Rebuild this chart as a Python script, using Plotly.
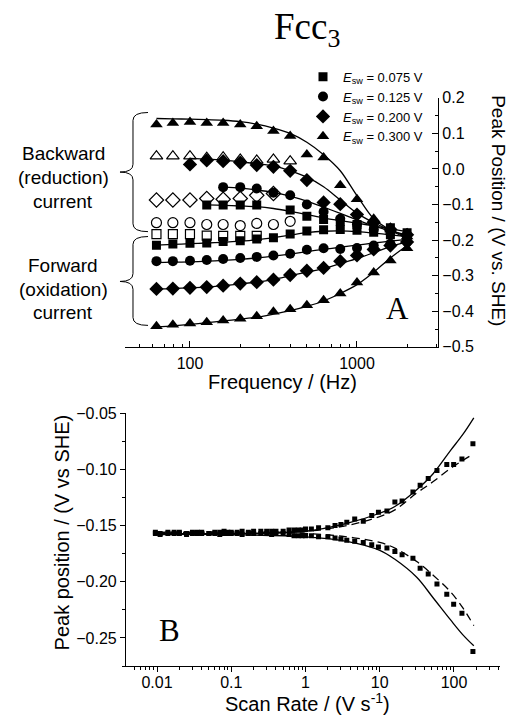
import plotly.graph_objects as go

W, H = 510, 727

# ---------------- Panel A data ----------------
freq = [63, 79, 100, 126, 158, 200, 251, 316, 398, 501, 631, 794, 1000, 1259, 1585, 1995]
esw_labels = ["0.075", "0.125", "0.200", "0.300"]

fwd_sq = [-0.214, -0.211, -0.209, -0.208, -0.204, -0.202, -0.197, -0.193, -0.183, -0.174, -0.171, -0.170, -0.172, -0.178, -0.185, -0.195]
fwd_ci = [-0.259, -0.259, -0.258, -0.256, -0.253, -0.250, -0.247, -0.243, -0.238, -0.227, -0.223, -0.225, -0.222, -0.215, -0.210, -0.205]
fwd_di = [-0.337, -0.336, -0.334, -0.332, -0.328, -0.322, -0.318, -0.311, -0.298, -0.286, -0.278, -0.259, -0.243, -0.226, -0.215, -0.205]
fwd_tr = [-0.442, -0.438, -0.434, -0.431, -0.426, -0.421, -0.414, -0.401, -0.394, -0.383, -0.369, -0.350, -0.319, -0.291, -0.257, -0.223]

bwd_sq_f = [126, 158, 200, 251, 398, 501, 631, 794, 1000, 1259, 1585, 1995]
bwd_sq = [-0.101, -0.101, -0.101, -0.101, -0.115, -0.133, -0.142, -0.147, -0.156, -0.165, -0.165, -0.179]
bwd_ci_f = [158, 200, 251, 316, 398, 501, 631, 794, 1000, 1259, 1585, 1995]
bwd_ci = [-0.051, -0.051, -0.055, -0.067, -0.074, -0.100, -0.120, -0.140, -0.155, -0.170, -0.180, -0.190]
bwd_di_f = [100, 126, 158, 200, 251, 316, 398, 501, 631, 794, 1000, 1259, 1585, 1995]
bwd_di = [0.013, 0.024, 0.022, 0.018, 0.011, 0.006, -0.005, -0.031, -0.094, -0.099, -0.128, -0.150, -0.170, -0.185]
bwd_tr_f = freq
bwd_tr = [0.125, 0.129, 0.132, 0.129, 0.129, 0.125, 0.120, 0.107, 0.093, 0.041, 0.032, -0.046, -0.085, -0.140, -0.170, -0.190]

open_sq_f = [63, 79, 100, 126, 158, 200, 251]
open_sq = [-0.183, -0.183, -0.183, -0.187, -0.188, -0.188, -0.188]
open_ci_f = [63, 79, 100, 126, 158, 200, 251, 316, 398]
open_ci = [-0.151, -0.151, -0.151, -0.156, -0.156, -0.159, -0.153, -0.156, -0.147]
open_di_f = [63, 79, 100, 126, 158, 200, 251, 316]
open_di = [-0.087, -0.087, -0.087, -0.083, -0.085, -0.083, -0.074, -0.069]
open_tr_f = [63, 79, 100, 126, 158, 200, 251, 316, 398]
open_tr = [0.036, 0.036, 0.036, 0.032, 0.033, 0.027, 0.024, 0.027, 0.022]

# fitted curves
fit_fwd_sq = [-0.214, -0.212, -0.210, -0.208, -0.206, -0.203, -0.199, -0.193, -0.186, -0.179, -0.175, -0.174, -0.176, -0.180, -0.185, -0.190]
fit_fwd_ci = [-0.263, -0.262, -0.261, -0.259, -0.257, -0.254, -0.250, -0.245, -0.239, -0.232, -0.226, -0.220, -0.214, -0.208, -0.203, -0.198]
fit_fwd_di = [-0.337, -0.336, -0.334, -0.332, -0.328, -0.323, -0.318, -0.310, -0.300, -0.290, -0.280, -0.266, -0.252, -0.235, -0.218, -0.205]
fit_fwd_tr = [-0.444, -0.441, -0.437, -0.432, -0.427, -0.422, -0.417, -0.408, -0.398, -0.386, -0.371, -0.350, -0.325, -0.290, -0.250, -0.215]
fit_bwd_tr = [0.142, 0.141, 0.140, 0.139, 0.137, 0.133, 0.126, 0.115, 0.100, 0.075, 0.040, -0.005, -0.075, -0.140, -0.172, -0.195]
fit_bwd_di_f = [100, 126, 158, 200, 251, 316, 398, 501, 631, 794, 1000, 1259, 1585, 1995]
fit_bwd_di = [0.030, 0.028, 0.025, 0.020, 0.015, 0.009, -0.005, -0.023, -0.050, -0.087, -0.124, -0.151, -0.172, -0.190]
fit_bwd_ci_f = [158, 200, 251, 316, 398, 501, 631, 794, 1000, 1259, 1585, 1995]
fit_bwd_ci = [-0.051, -0.054, -0.059, -0.066, -0.077, -0.090, -0.107, -0.125, -0.143, -0.160, -0.174, -0.185]
fit_bwd_sq_f = [126, 158, 200, 251, 316, 398, 501, 631, 794, 1000, 1259, 1585, 1995]
fit_bwd_sq = [-0.101, -0.102, -0.104, -0.106, -0.111, -0.119, -0.128, -0.138, -0.145, -0.152, -0.160, -0.168, -0.176]

freq_tickvals = [100, 1000]
freq_ticktext = ["100", "1000"]

# ---------------- Panel B data ----------------
rate = [0.0095, 0.011, 0.014, 0.017, 0.02, 0.025, 0.03, 0.035, 0.04, 0.05, 0.06, 0.07, 0.08, 0.09,
        0.1, 0.12, 0.14, 0.17, 0.2, 0.25, 0.3, 0.35, 0.4, 0.5, 0.6, 0.7, 0.8, 0.9, 1.0, 1.2, 1.5,
        2.0, 2.5, 3.0, 3.6, 4.6, 6.0, 7.8, 9.6, 12.5, 16, 20, 28, 35, 45, 59, 80, 99, 128, 180]
peak_up = [-0.156, -0.157, -0.156, -0.156, -0.156, -0.157, -0.156, -0.156, -0.156, -0.157, -0.156, -0.156, -0.155, -0.156,
           -0.156, -0.156, -0.155, -0.156, -0.155, -0.155, -0.155, -0.155, -0.155, -0.155, -0.154, -0.154, -0.154, -0.154,
           -0.153, -0.153, -0.152, -0.152, -0.150, -0.149, -0.147, -0.144, -0.146, -0.141, -0.138, -0.137, -0.129, -0.128,
           -0.120, -0.114, -0.108, -0.101, -0.0955, -0.0955, -0.0906, -0.077]
peak_dn = [-0.157, -0.158, -0.157, -0.157, -0.157, -0.158, -0.157, -0.157, -0.157, -0.157, -0.157, -0.158, -0.157, -0.157,
           -0.157, -0.157, -0.158, -0.157, -0.157, -0.157, -0.157, -0.158, -0.157, -0.157, -0.158, -0.159, -0.159, -0.159,
           -0.159, -0.159, -0.160, -0.160, -0.161, -0.162, -0.163, -0.164, -0.165, -0.167, -0.169, -0.170, -0.173, -0.176,
           -0.179, -0.188, -0.193, -0.202, -0.211, -0.220, -0.228, -0.262]

fitB_x = [0.01, 0.1, 1, 3.6, 10, 16, 31.5, 52, 90, 131, 185]
fitB_solid_up = [-0.157, -0.157, -0.155, -0.148, -0.139, -0.133, -0.118, -0.104, -0.083, -0.069, -0.054]
fitB_dash_up = [-0.156, -0.156, -0.155, -0.150, -0.142, -0.136, -0.121, -0.111, -0.099, -0.092, -0.086]
fitB_solid_dn = [-0.158, -0.158, -0.160, -0.164, -0.172, -0.180, -0.196, -0.214, -0.234, -0.247, -0.257]
fitB_dash_dn = [-0.156, -0.156, -0.157, -0.160, -0.165, -0.170, -0.182, -0.194, -0.209, -0.223, -0.239]

rate_tickvals = [0.01, 0.1, 1, 10, 100]
rate_ticktext = ["0.01", "0.1", "1", "10", "100"]

SANS = "Liberation Sans, Arial, sans-serif"
SERIF = "Liberation Serif, Times New Roman, serif"


def px(x):
    return x / W


def py(y):
    return 1 - y / H


fig = go.Figure()

symbols = ["square", "circle", "diamond", "triangle-up"]
sizes = [9, 10, 11, 11]
fwd_all = [fwd_sq, fwd_ci, fwd_di, fwd_tr]
bwd_all = [(bwd_sq_f, bwd_sq), (bwd_ci_f, bwd_ci), (bwd_di_f, bwd_di), (bwd_tr_f, bwd_tr)]
open_all = [(open_sq_f, open_sq), (open_ci_f, open_ci), (open_di_f, open_di), (open_tr_f, open_tr)]
fit_fwd = [fit_fwd_sq, fit_fwd_ci, fit_fwd_di, fit_fwd_tr]
fit_bwd = [(fit_bwd_sq_f, fit_bwd_sq), (fit_bwd_ci_f, fit_bwd_ci), (fit_bwd_di_f, fit_bwd_di), (freq, fit_bwd_tr)]

line_style = dict(color="black", width=1.3, shape="spline", smoothing=0.8)

for i in range(4):
    fig.add_trace(go.Scatter(x=freq, y=fit_fwd[i], mode="lines", line=line_style,
                             showlegend=False, xaxis="x", yaxis="y", hoverinfo="skip"))
    fig.add_trace(go.Scatter(x=fit_bwd[i][0], y=fit_bwd[i][1], mode="lines", line=line_style,
                             showlegend=False, xaxis="x", yaxis="y", hoverinfo="skip"))
for i in range(4):
    fig.add_trace(go.Scatter(x=open_all[i][0], y=open_all[i][1], mode="markers",
                             marker=dict(symbol=symbols[i] + "-open", size=sizes[i], color="black",
                                         line=dict(width=1.2, color="black")),
                             showlegend=False, xaxis="x", yaxis="y"))
for i in range(4):
    name = "<i>E</i><sub>sw</sub> = " + esw_labels[i] + " V"
    fig.add_trace(go.Scatter(x=freq, y=fwd_all[i], mode="markers", name=name, legendgroup=str(i),
                             marker=dict(symbol=symbols[i], size=sizes[i], color="black",
                                         line=dict(width=0)),
                             xaxis="x", yaxis="y"))
    fig.add_trace(go.Scatter(x=bwd_all[i][0], y=bwd_all[i][1], mode="markers", legendgroup=str(i),
                             marker=dict(symbol=symbols[i], size=sizes[i], color="black",
                                         line=dict(width=0)),
                             showlegend=False, xaxis="x", yaxis="y"))

# Panel B
fig.add_trace(go.Scatter(x=fitB_x, y=fitB_solid_up, mode="lines", line=dict(color="black", width=1.3, shape="spline"),
                         showlegend=False, xaxis="x2", yaxis="y2"))
fig.add_trace(go.Scatter(x=fitB_x, y=fitB_solid_dn, mode="lines", line=dict(color="black", width=1.3, shape="spline"),
                         showlegend=False, xaxis="x2", yaxis="y2"))
fig.add_trace(go.Scatter(x=fitB_x, y=fitB_dash_up, mode="lines",
                         line=dict(color="black", width=1.3, dash="8px,5px", shape="spline"),
                         showlegend=False, xaxis="x2", yaxis="y2"))
fig.add_trace(go.Scatter(x=fitB_x, y=fitB_dash_dn, mode="lines",
                         line=dict(color="black", width=1.3, dash="8px,5px", shape="spline"),
                         showlegend=False, xaxis="x2", yaxis="y2"))
for ys in (peak_up, peak_dn):
    fig.add_trace(go.Scatter(x=rate, y=ys, mode="markers",
                             marker=dict(symbol="square", size=5, color="black", line=dict(width=0)),
                             showlegend=False, xaxis="x2", yaxis="y2"))

tickfont = dict(family=SANS, size=16, color="black")

fig.update_layout(
    width=W, height=H, autosize=False,
    margin=dict(l=0, r=0, t=0, b=0),
    paper_bgcolor="white", plot_bgcolor="rgba(0,0,0,0)",
    font=dict(family=SANS, color="black"),
    showlegend=True,
    legend=dict(x=px(303), y=py(55), xanchor="left", yanchor="top",
                bgcolor="rgba(0,0,0,0)", font=dict(family=SANS, size=13, color="black"),
                tracegroupgap=0, itemwidth=30),
    xaxis=dict(type="log", domain=[px(125), px(438)], range=[1.611, 3.485], anchor="y",
               showline=True, linecolor="black", linewidth=1.2, mirror=False,
               ticks="inside", ticklen=6, tickwidth=1, tickcolor="black",
               tickvals=freq_tickvals, ticktext=freq_ticktext, tickfont=tickfont,
               ticklabelstandoff=2,
               minor=dict(ticks="inside", ticklen=3, tickwidth=1, tickcolor="black",
                          tickvals=[50, 60, 70, 80, 90, 200, 300, 400, 500, 600, 700, 800, 900, 2000, 3000]),
               showgrid=False, zeroline=False),
    yaxis=dict(domain=[py(347), py(92)], range=[-0.5, 0.2], anchor="x", side="right",
               showline=True, linecolor="black", linewidth=1.2,
               ticks="inside", ticklen=6, tickwidth=1, tickcolor="black",
               dtick=0.1, tick0=0, tickformat=".1f", tickfont=tickfont,
               minor=dict(ticks="inside", ticklen=3, dtick=0.05, tickcolor="black"),
               showgrid=False, zeroline=False),
    xaxis2=dict(type="log", domain=[px(126), px(500)], range=[-2.418, 2.62], anchor="y2",
                showline=True, linecolor="black", linewidth=1.2,
                ticks="outside", ticklen=5, tickwidth=1, tickcolor="black",
                tickvals=rate_tickvals, ticktext=rate_ticktext, tickfont=tickfont,
                ticklabelstandoff=-4,
                minor=dict(ticks="outside", ticklen=3, tickwidth=1, tickcolor="black",
                           tickvals=[0.005, 0.006, 0.007, 0.008, 0.009, 0.02, 0.03, 0.04, 0.05, 0.06, 0.07, 0.08, 0.09,
                                     0.2, 0.3, 0.4, 0.5, 0.6, 0.7, 0.8, 0.9, 2, 3, 4, 5, 6, 7, 8, 9,
                                     20, 30, 40, 50, 60, 70, 80, 90, 200, 300, 400]),
                showgrid=False, zeroline=False),
    yaxis2=dict(domain=[py(674), py(415)], range=[-0.2752, -0.05], anchor="x2",
                showline=True, linecolor="black", linewidth=1.2,
                ticks="outside", ticklen=5, tickwidth=1, tickcolor="black",
                dtick=0.05, tick0=-0.05, tickformat=".2f", tickfont=tickfont,
                minor=dict(ticks="outside", ticklen=3, dtick=0.025, tickcolor="black"),
                showgrid=False, zeroline=False),
)

annotations = [
    dict(text="Fcc<sub>3</sub>", x=px(307), y=py(22), font=dict(family=SERIF, size=37)),
    dict(text="A", x=px(397), y=py(308), font=dict(family=SERIF, size=31)),
    dict(text="B", x=px(169), y=py(637), font=dict(family=SERIF, size=31)),
    dict(text="Backward", x=px(63), y=py(149), font=dict(family=SANS, size=19)),
    dict(text="(reduction)", x=px(63), y=py(174), font=dict(family=SANS, size=19)),
    dict(text="current", x=px(63), y=py(198), font=dict(family=SANS, size=19)),
    dict(text="Forward", x=px(63), y=py(264), font=dict(family=SANS, size=19)),
    dict(text="(oxidation)", x=px(63), y=py(288), font=dict(family=SANS, size=19)),
    dict(text="current", x=px(63), y=py(312), font=dict(family=SANS, size=19)),
    dict(text="Frequency / (Hz)", x=px(282), y=py(383), font=dict(family=SANS, size=20)),
    dict(text="Peak Position / (V vs. SHE)", x=px(499), y=py(207), textangle=90,
         font=dict(family=SANS, size=19)),
    dict(text="Scan Rate / (V s<sup>-1</sup>)", x=px(307), y=py(711), font=dict(family=SANS, size=20)),
    dict(text="Peak position / (V vs SHE)", x=px(62), y=py(537), textangle=-90,
         font=dict(family=SANS, size=20)),
]
for a in annotations:
    a.update(xref="paper", yref="paper", showarrow=False, xanchor="center", yanchor="middle")
fig.update_layout(annotations=annotations)


def brace(xl, xtip, xend, ytop, ytip, ybot, r=8):
    P = lambda x, y: f"{px(x):.5f},{py(y):.5f}"
    return (f"M{P(xend, ytop)} Q{P(xl, ytop)} {P(xl, ytop + r)} L{P(xl, ytip - r)} "
            f"Q{P(xl, ytip)} {P(xtip, ytip)} Q{P(xl, ytip)} {P(xl, ytip + r)} "
            f"L{P(xl, ybot - r)} Q{P(xl, ybot)} {P(xend, ybot)}")


fig.update_layout(shapes=[
    dict(type="path", xref="paper", yref="paper", path=brace(133, 120, 148, 107, 168, 229),
         line=dict(color="black", width=1)),
    dict(type="path", xref="paper", yref="paper", path=brace(133, 120, 148, 234, 280, 325),
         line=dict(color="black", width=1)),
])

fig.write_html("out.html", config={"displayModeBar": False},
               post_script="document.body.style.margin='0px';document.body.style.overflow='hidden';")
